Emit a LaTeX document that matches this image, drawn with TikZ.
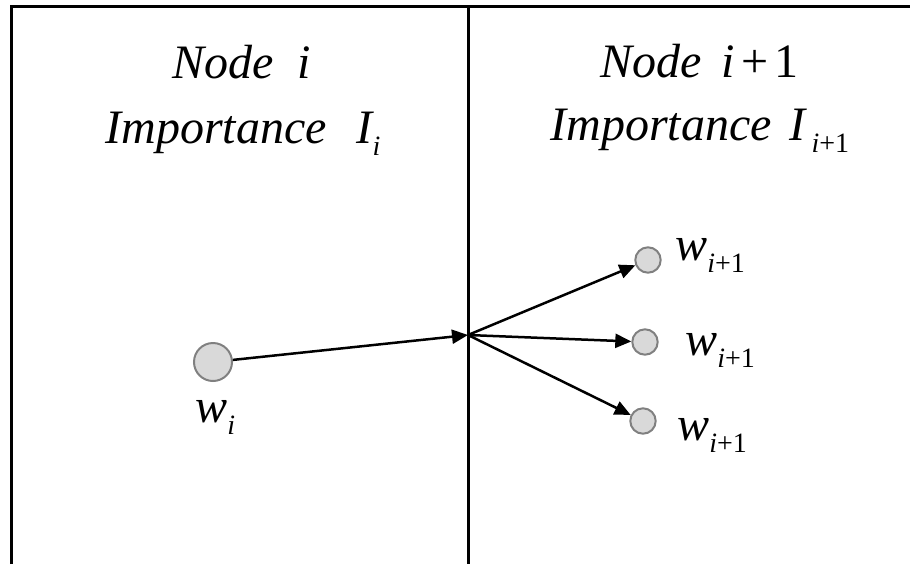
\documentclass[tikz,border=0pt]{standalone}
\usepackage{fontspec}
\setmainfont{Liberation Serif}
\usetikzlibrary{arrows.meta}
\newcommand\mysub[1]{\raisebox{-6.3pt}{\fontsize{14pt}{14pt}\selectfont #1}}
\begin{document}
\begin{tikzpicture}[x=0.5pt,y=-0.5pt,
  frame/.style={line width=1.5pt, black},
  lbl/.style={anchor=base west, inner sep=0pt, font=\fontsize{24pt}{28pt}\selectfont\itshape},
  bigc/.style={circle, draw=gray, fill=gray!30, line width=1pt, minimum size=19pt, inner sep=0pt},
  smallc/.style={circle, draw=gray, fill=gray!30, line width=1pt, minimum size=12.7pt, inner sep=0pt},
  arr/.style={-{Triangle[length=8pt, width=7pt]}, line width=1.25pt, black}]
\useasboundingbox (0,0) rectangle (910,564);
% frame
\draw[frame] (11.5,564) -- (11.5,6) -- (910,6);
\draw[frame] (468,6) -- (468,564);
% titles
\node[lbl] (t1) at (172,78) {Node\hspace{12pt}i};
\node[lbl] (t2) at (105,143) {Importance\hspace{15pt}I\mysub{i}};
\node[lbl] (t3) at (600,77) {Node\hspace{10pt}i\hspace{3pt}{\upshape+\hspace{3pt}1}};
\node[lbl] (t4) at (550,140) {Importance\hspace{9pt}I\hspace{3pt}\mysub{i{\upshape+1}}};
% circles
\node[bigc] (wi) at (213,362) {};
\node[smallc] (n1) at (648,260) {};
\node[smallc] (n2) at (645,342) {};
\node[smallc] (n3) at (643,421) {};
\coordinate (hub) at (468,335);
% labels
\node[lbl] (lwi) at (195,422) {w\mysub{i}};
\node[lbl] (l1) at (675,260) {w\mysub{i{\upshape+1}}};
\node[lbl] (l2) at (685,355) {w\mysub{i{\upshape+1}}};
\node[lbl] (l3) at (677,440) {w\mysub{i{\upshape+1}}};
% arrows
\draw[arr] (wi) -- (hub);
\draw[arr] (hub) -- (n1);
\draw[arr] (hub) -- (n2);
\draw[arr] (hub) -- (n3);
\end{tikzpicture}
\end{document}
